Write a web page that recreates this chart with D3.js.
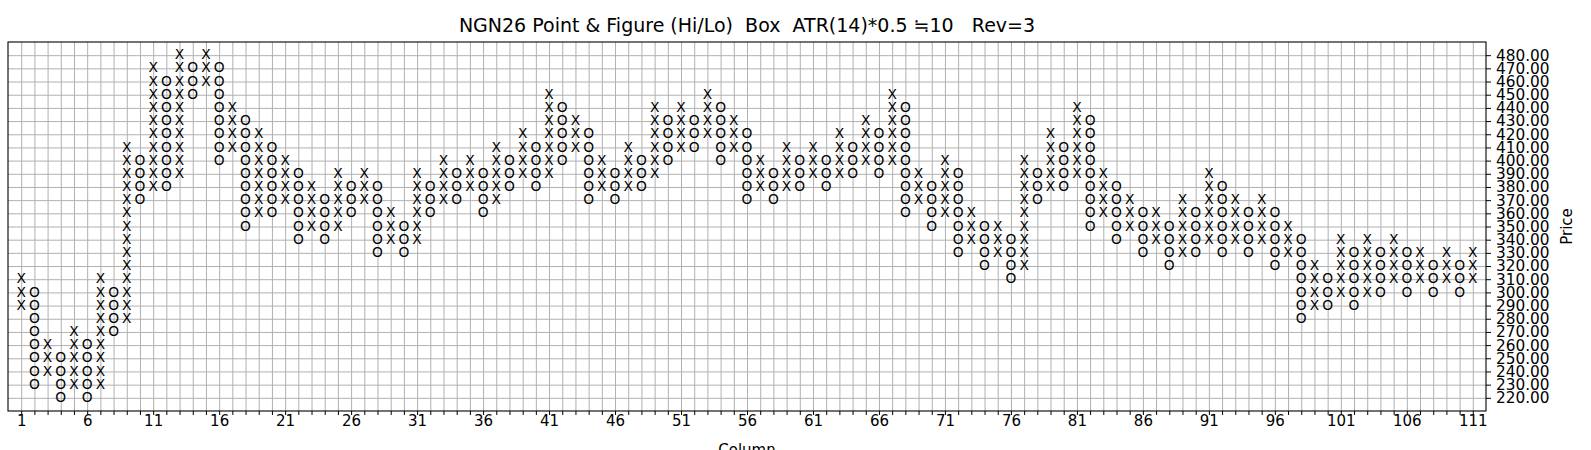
<!DOCTYPE html>
<html><head><meta charset="utf-8">
<script src="https://cdn.jsdelivr.net/npm/d3@7/dist/d3.min.js"></script>
<style>
body{margin:0;background:#fff;}
svg{display:block;font-family:"DejaVu Sans",sans-serif;}
</style>
</head><body>
<svg id="chart" width="1591" height="450"></svg>
<script>
// ---- data ----
const columnTypes = ["X","O","X","O","X","O","X","O","X","O",
  "X","O","X","O","X","O","X","O","X","O",
  "X","O","X","O","X","O","X","O","X","O",
  "X","O","X","O","X","O","X","O","X","O",
  "X","O","X","O","X","O","X","O","X","O",
  "X","O","X","O","X","O","X","O","X","O",
  "X","O","X","O","X","O","X","O","X","O",
  "X","O","X","O","X","O","X","O","X","O",
  "X","O","X","O","X","O","X","O","X","O",
  "X","O","X","O","X","O","X","O","X","O",
  "X","O","X","O","X","O","X","O","X","O","X"];
const columnLows = [290,230,240,220,230,220,230,270,280,370,
  380,380,390,450,460,400,410,350,360,360,
  370,340,350,340,350,360,370,330,340,330,
  340,360,370,370,380,360,370,380,390,380,
  390,400,410,370,380,370,380,380,390,400,
  410,410,420,400,410,370,380,370,380,380,
  390,380,390,390,400,390,400,360,370,350,
  360,330,340,320,330,310,320,370,380,380,
  390,350,360,340,350,330,340,320,330,330,
  340,330,340,330,340,320,330,280,290,290,
  300,290,300,300,310,300,310,300,310,300,310];
const columnHighs = [310,300,260,250,270,260,310,300,410,400,
  470,460,480,470,480,470,440,430,420,410,
  400,390,380,370,390,380,390,380,360,350,
  390,380,400,390,400,390,410,400,420,410,
  450,440,430,420,400,390,410,400,440,430,
  440,430,450,440,430,420,400,390,410,400,
  410,400,420,410,430,420,450,440,390,380,
  400,390,360,350,350,340,400,390,420,410,
  440,430,390,380,370,360,360,350,370,360,
  390,380,370,360,370,360,350,340,320,310,
  340,330,340,330,340,330,330,320,330,320,330];
const priceTicks = [220,230,240,250,260,270,280,290,300,310,320,330,340,350,
  360,370,380,390,400,410,420,430,440,450,460,470,480];
const columnTickLabels = [1,6,11,16,21,26,31,36,41,46,51,56,61,66,71,76,81,86,91,96,101,106,111];
const boxSize = 10;
const titleText = "NGN26 Point & Figure (Hi/Lo)  Box  ATR(14)*0.5 \u225210   Rev=3";

// ---- layout ----
const svg = d3.select("#chart");
const L = 8, R = 1486, T = 42, B = 411;
const nCols = columnTypes.length;
const columns = d3.range(1, nCols + 1);

const x = d3.scaleLinear().domain([0, nCols + 1]).range([L, R]);
const y = d3.scaleLinear().domain([d3.min(columnLows) - boxSize, d3.max(columnHighs) + boxSize]).range([B, T]);

// grid
const gridColor = "#b0b0b0";
const gx = svg.append("g").attr("transform", `translate(0,${B})`)
  .call(d3.axisBottom(x).tickValues(columns).tickSize(-(B - T)).tickFormat(""));
gx.select(".domain").remove();
gx.selectAll("line").attr("stroke", gridColor).attr("stroke-width", 1);
const gy = svg.append("g").attr("transform", `translate(${L},0)`)
  .call(d3.axisLeft(y).tickValues(priceTicks).tickSize(-(R - L)).tickFormat(""));
gy.select(".domain").remove();
gy.selectAll("line").attr("stroke", gridColor).attr("stroke-width", 1);

// marks
const marks = columns.flatMap((c, i) =>
  d3.range(columnLows[i], columnHighs[i] + boxSize / 2, boxSize).map(p => ({c, p, t: columnTypes[i]})));
svg.append("g").selectAll("text").data(marks).join("text")
  .attr("x", d => x(d.c))
  .attr("y", d => y(d.p))
  .attr("dy", "0.3em")
  .attr("text-anchor", "middle")
  .attr("font-size", 13.8)
  .attr("fill", "#000")
  .text(d => d.t);

// frame
svg.append("rect").attr("x", L).attr("y", T).attr("width", R - L).attr("height", B - T)
  .attr("fill", "none").attr("stroke", "#000").attr("stroke-width", 1.1);

// bottom axis
const labelSet = new Set(columnTickLabels);
const ax = svg.append("g").attr("transform", `translate(0,${B})`)
  .call(d3.axisBottom(x).tickValues(columns).tickSize(4).tickPadding(0)
    .tickFormat(d => labelSet.has(d) ? d : ""));
ax.select(".domain").remove();
ax.selectAll("line").attr("stroke", "#000").attr("stroke-width", 1);
ax.selectAll("text").attr("font-size", 15).attr("fill", "#000").attr("font-family", "DejaVu Sans");

// right axis
const ay = svg.append("g").attr("transform", `translate(${R},0)`)
  .call(d3.axisRight(y).tickValues(priceTicks).tickSize(5).tickPadding(5).tickFormat(d3.format(".2f")));
ay.select(".domain").remove();
ay.selectAll("line").attr("stroke", "#000").attr("stroke-width", 1);
ay.selectAll("text").attr("font-size", 15.3).attr("fill", "#000").attr("font-family", "DejaVu Sans");

// labels
svg.append("text").attr("x", (L + R) / 2).attr("y", 32)
  .attr("text-anchor", "middle").attr("font-size", 19)
  .attr("xml:space", "preserve").style("white-space", "pre")
  .text(titleText);
svg.append("text").attr("transform", `translate(1572,${(T + B) / 2}) rotate(-90)`)
  .attr("text-anchor", "middle").attr("font-size", 15).text("Price");
svg.append("text").attr("x", (L + R) / 2).attr("y", 455)
  .attr("text-anchor", "middle").attr("font-size", 15).text("Column");
</script>
</body></html>
